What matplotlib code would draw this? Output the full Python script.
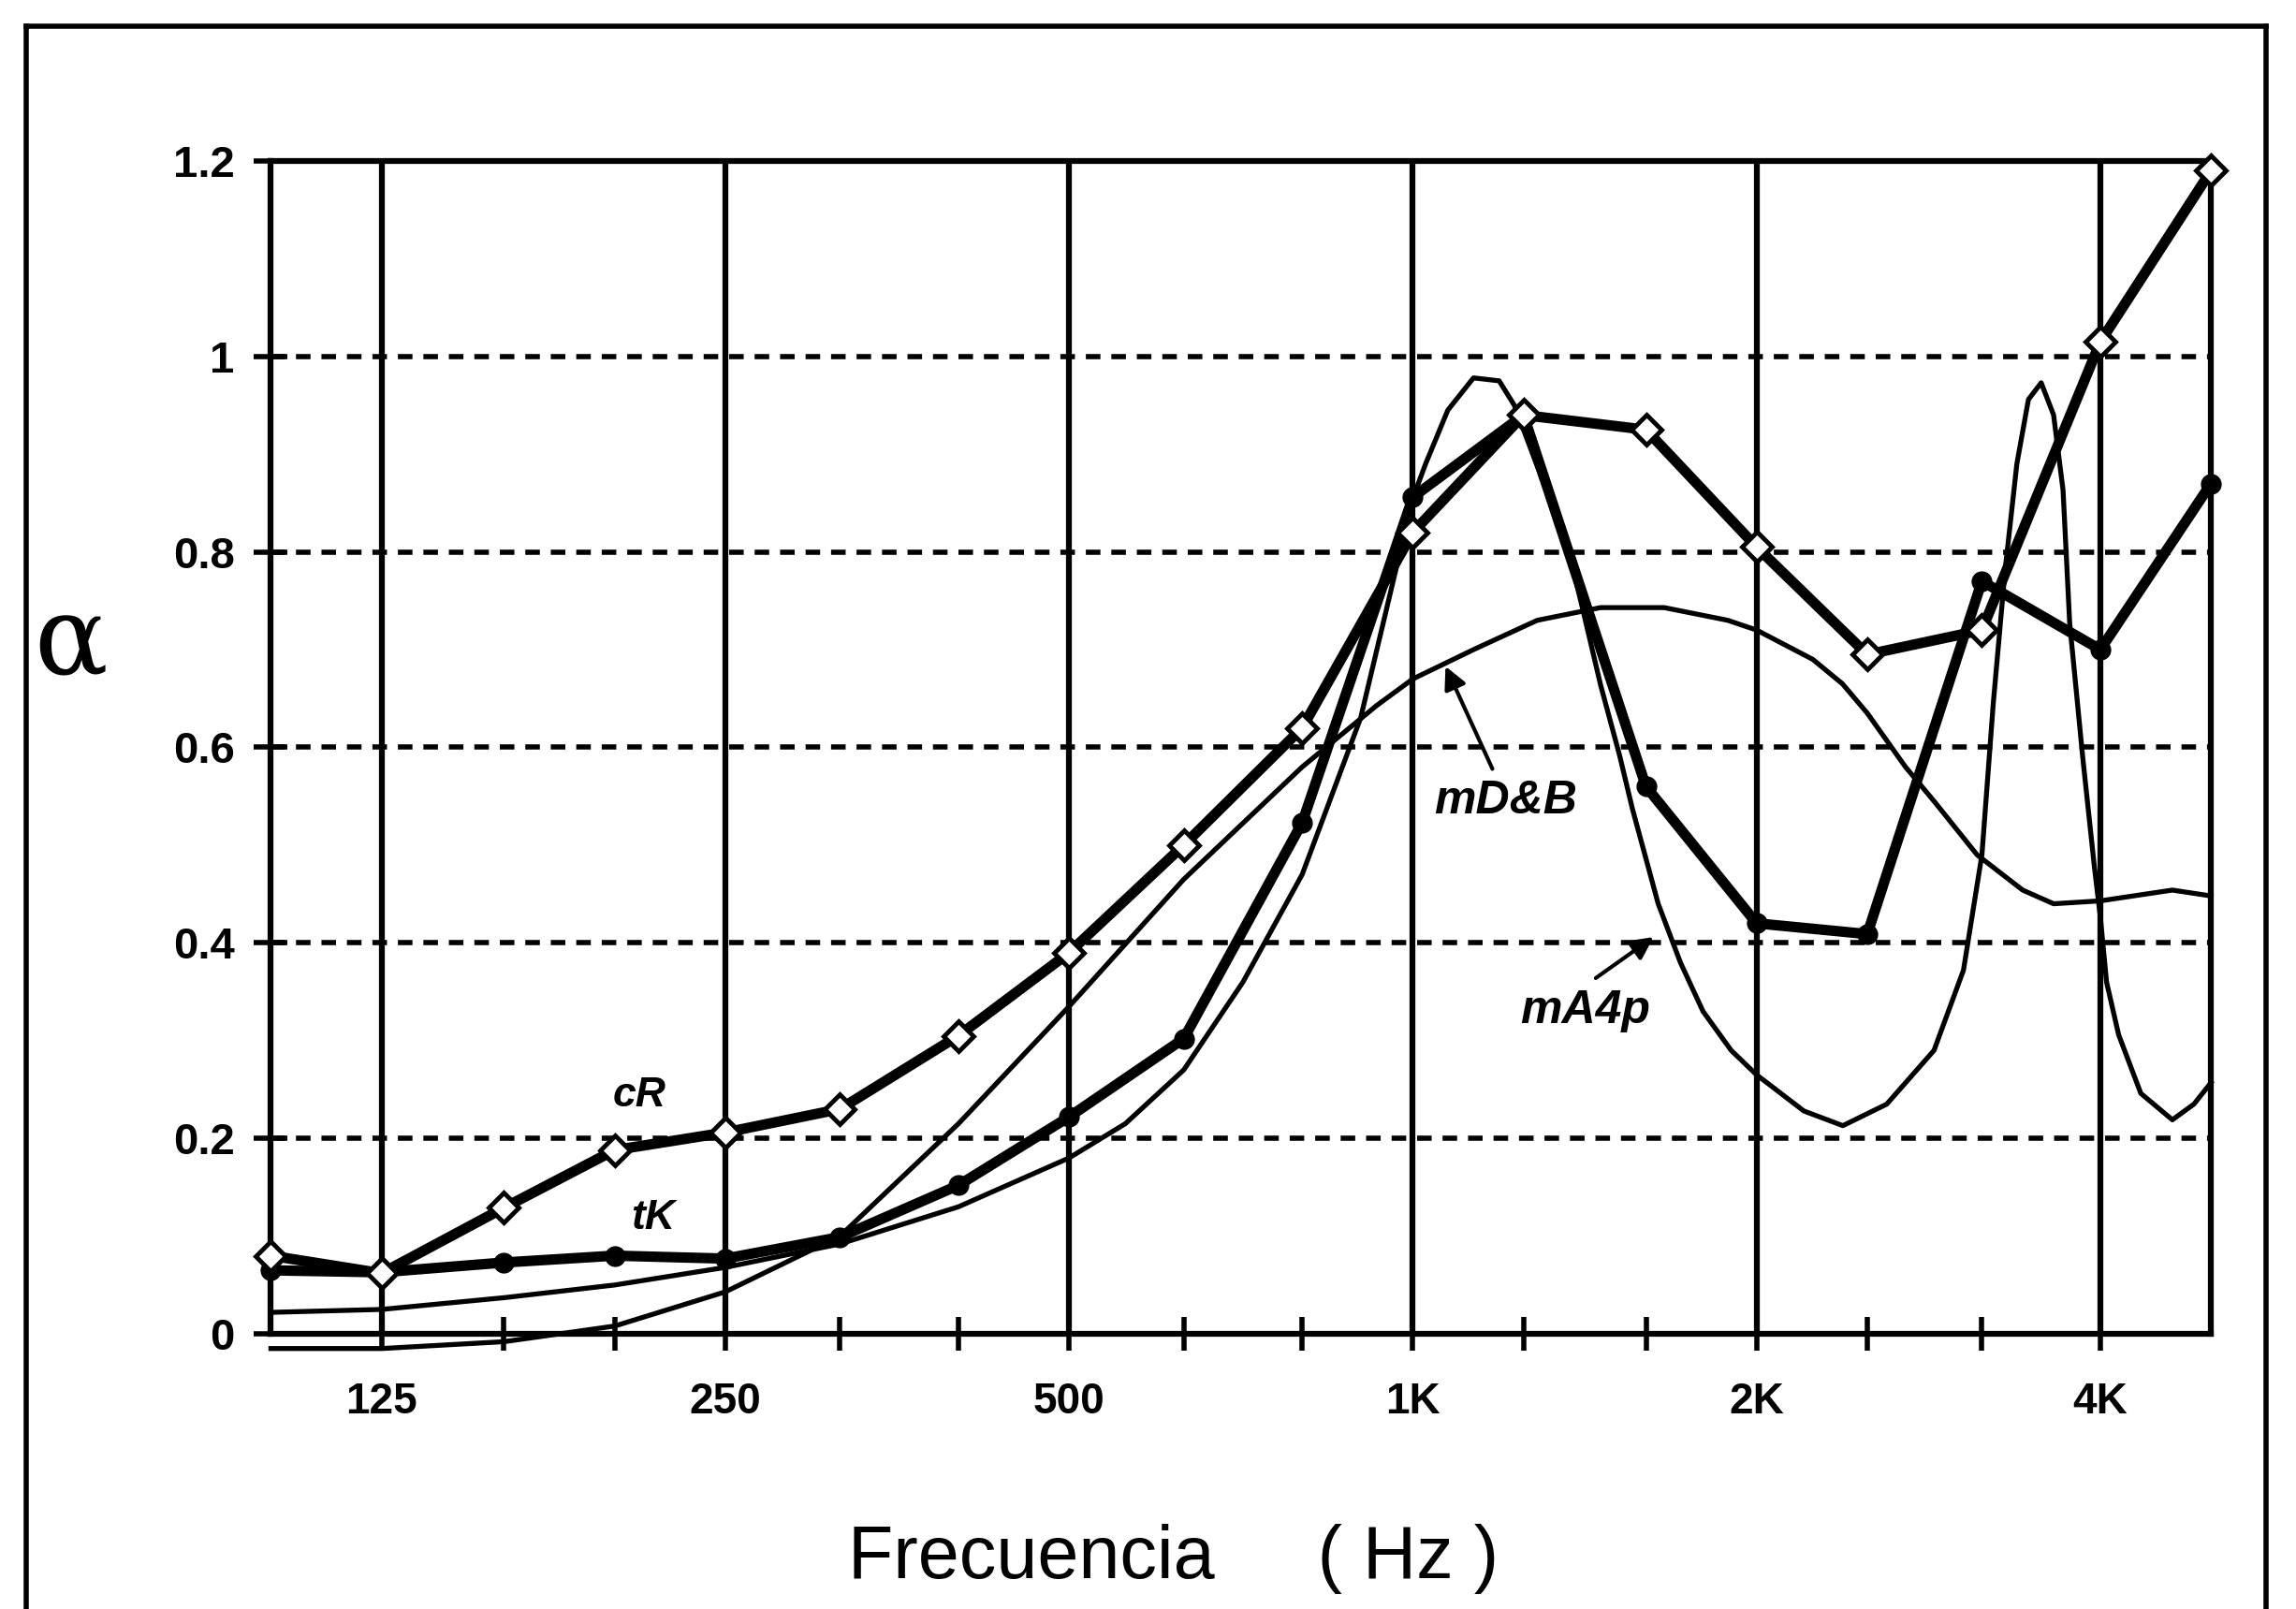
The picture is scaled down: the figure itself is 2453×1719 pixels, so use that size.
import matplotlib
matplotlib.use("Agg")
import matplotlib.pyplot as plt
from matplotlib.lines import Line2D

# third-octave band centres (Hz)
bands = [100, 125, 160, 200, 250, 315, 400, 500, 630, 800, 1000, 1250, 1600, 2000, 2500, 3150, 4000, 5000]

# measured curves (markers)
cR = [0.08, 0.062, 0.129, 0.188, 0.206, 0.23, 0.305, 0.39, 0.50, 0.62, 0.82, 0.94, 0.925, 0.805, 0.695, 0.72, 1.015, 1.19]
tK = [0.065, 0.063, 0.073, 0.08, 0.077, 0.099, 0.152, 0.222, 0.302, 0.523, 0.856, 0.94, 0.56, 0.42, 0.409, 0.77, 0.70, 0.87]

# model mD&B (thin smooth curve)
mDB_f = [100, 125, 160, 200, 250, 315, 400, 500, 630, 800, 930, 1000, 1130, 1285, 1460, 1660, 1887, 2000, 2240,
         2378, 2500, 2700, 2860, 3120, 3420, 3640, 4000, 4625, 5000]
mDB_a = [-0.015, -0.015, -0.008, 0.008, 0.043, 0.10, 0.215, 0.335, 0.465, 0.58, 0.643, 0.67, 0.70, 0.73, 0.743, 0.743,
         0.73, 0.72, 0.69, 0.665, 0.635, 0.58, 0.545, 0.49, 0.454, 0.44, 0.443, 0.454, 0.448]

# model mA4p (thin oscillating curve)
mA4p_f = [100, 125, 160, 200, 250, 315, 400, 500, 560, 630, 710, 800, 900, 1000, 1026, 1073, 1130, 1190, 1227, 1302,
          1370, 1414, 1460, 1517, 1557, 1640, 1715, 1795, 1900, 2000, 2200, 2380, 2600, 2860, 3035, 3150, 3223, 3300,
          3380, 3460, 3550, 3640, 3710, 3760, 3860, 3950, 4000, 4050, 4150, 4340, 4625, 4830, 5000]
mA4p_a = [0.022, 0.025, 0.037, 0.05, 0.068, 0.092, 0.13, 0.18, 0.215, 0.27, 0.36, 0.47, 0.63, 0.855, 0.89, 0.945,
          0.978, 0.975, 0.95, 0.87, 0.80, 0.733, 0.664, 0.592, 0.537, 0.44, 0.38, 0.33, 0.29, 0.265, 0.228, 0.213,
          0.235, 0.29, 0.372, 0.49, 0.645, 0.78, 0.89, 0.956, 0.973, 0.94, 0.863, 0.727, 0.59, 0.48, 0.426, 0.36,
          0.306, 0.246, 0.219, 0.235, 0.257]

major_f = [125, 250, 500, 1000, 2000, 4000]
major_lbl = ['125', '250', '500', '1K', '2K', '4K']
minor_f = [160, 200, 315, 400, 630, 800, 1250, 1600, 2500, 3150]
y_ticks = [0, 0.2, 0.4, 0.6, 0.8, 1, 1.2]
y_lbl = ['0', '0.2', '0.4', '0.6', '0.8', '1', '1.2']

plt.rcParams['font.family'] = ['Liberation Sans', 'DejaVu Sans']

fig = plt.figure(figsize=(24.53, 17.19), dpi=100)
ax = fig.add_axes([0.118, 0.171, 0.845, 0.729])

ax.set_xscale('log')
ax.set_xlim(100, 5000)
ax.set_ylim(0, 1.2)

# grid: solid verticals, dashed horizontals
for f in major_f:
    ax.axvline(f, color='black', lw=4.5, zorder=1)
for v in y_ticks[1:-1]:
    ax.axhline(v, color='black', lw=4, ls=(0, (2.8, 2.1)), zorder=1)

# thin model curves
ax.plot(mDB_f, mDB_a, color='black', lw=3.8, zorder=3, clip_on=False)
ax.plot(mA4p_f, mA4p_a, color='black', lw=3.8, zorder=3, clip_on=False)

# measured curves
ax.plot(bands, tK, color='black', lw=8, marker='o', ms=15, mfc='black', mec='black', zorder=4, clip_on=False)
ax.plot(bands, cR, color='black', lw=8, marker='D', ms=16, mfc='white', mec='black', mew=3.5, zorder=5,
        clip_on=False)

# axes and ticks
ax.set_xticks(major_f)
ax.set_xticklabels(major_lbl)
ax.set_xticks(minor_f, minor=True)
ax.xaxis.set_minor_formatter(plt.NullFormatter())
ax.set_yticks(y_ticks)
ax.set_yticklabels(y_lbl)
ax.tick_params(axis='x', which='both', direction='inout', length=26, width=4, pad=24)
ax.tick_params(axis='y', which='both', direction='inout', length=26, width=4, pad=15)
for lbl in ax.get_xticklabels():
    lbl.set_fontsize(33)
    lbl.set_fontweight('bold')
for lbl in ax.get_yticklabels():
    lbl.set_fontsize(34)
    lbl.set_fontweight('bold')
for s in ax.spines.values():
    s.set_linewidth(4.5)

ax.set_xlabel('Frecuencia     ( Hz )', fontsize=57, va='center')
ax.xaxis.set_label_coords(0.465, -0.192)
ax.set_ylabel('α', fontsize=84, family='DejaVu Serif', rotation=0, va='center', ha='center')
ax.yaxis.set_label_coords(-0.1034, 0.588)

# curve labels
lab = dict(fontsize=32, fontweight='bold', fontstyle='italic', ha='center', va='center')
ax.text(210, 0.244, 'cR', **lab)
ax.text(216, 0.118, 'tK', **lab)
lab2 = dict(fontsize=36, fontweight='bold', fontstyle='italic', ha='center', va='center')
ax.text(1205, 0.545, 'mD&B', **lab2)
ax.text(1416, 0.33, 'mA4p', **lab2)
arrow = dict(arrowstyle='-|>', color='black', lw=3, mutation_scale=36, shrinkA=0, shrinkB=0)
ax.annotate('', xy=(1068, 0.683), xytext=(1174, 0.578), arrowprops=arrow)
ax.annotate('', xy=(1625, 0.406), xytext=(1446, 0.364), arrowprops=arrow)

# outer frame of the figure
fig.add_artist(Line2D([0.0115, 0.0115], [0, 0.984], color='black', lw=4, transform=fig.transFigure))
fig.add_artist(Line2D([0.0115, 0.987], [0.984, 0.984], color='black', lw=4, transform=fig.transFigure))
fig.add_artist(Line2D([0.987, 0.987], [0, 0.984], color='black', lw=4, transform=fig.transFigure))

fig.savefig('out.png', dpi=100)
